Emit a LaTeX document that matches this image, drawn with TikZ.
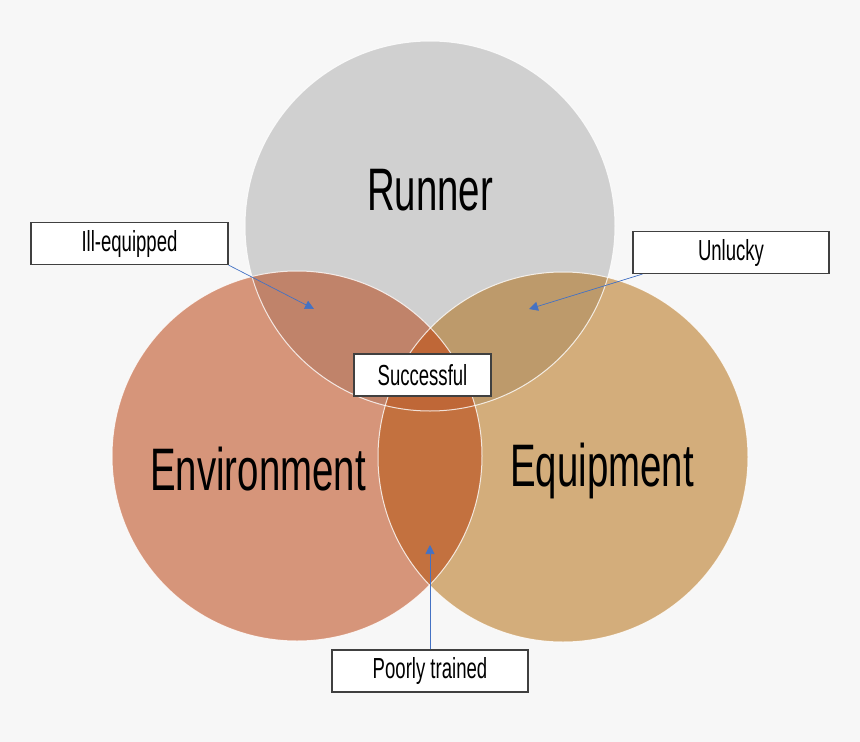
\documentclass[tikz,border=0pt]{standalone}
\usepackage{fontspec}
\newfontfamily\agency[FakeStretch=0.64]{Liberation Sans}
\usetikzlibrary{arrows.meta,
                positioning}
\definecolor{bg}{HTML}{F7F7F7}
\definecolor{colR}{HTML}{D0D0D0}
\definecolor{colE}{HTML}{D6957A}
\definecolor{colQ}{HTML}{D3AD7B}
\definecolor{colRE}{HTML}{C0836A}
\definecolor{colRQ}{HTML}{BD9A6B}
\definecolor{colEQ}{HTML}{C3713F}
\definecolor{colREQ}{HTML}{BF6737}
\definecolor{boxline}{HTML}{404040}
\definecolor{arrowblue}{HTML}{4472C4}

\begin{document}
\begin{tikzpicture}[x=1pt, y=-1pt,
   SET/.style = {circle, minimum size=370pt, inner sep=0pt},
   TXT/.style = {font=\agency\fontsize{60}{62}\selectfont},
   LBL/.style = {draw=boxline, fill=white, line width=1.2pt,
                 minimum height=42pt, inner sep=0pt,
                 font=\agency\fontsize{29}{31}\selectfont},
   PTR/.style = {draw=arrowblue, line width=0.7pt,
                 -{Triangle[length=9pt, width=9pt]}},
   RIM/.style = {draw=white, line width=1pt, draw opacity=0.8}
                     ]
\fill[bg] (0,0) rectangle (860,742);
\useasboundingbox (0,0) rectangle (860,742);
% the three sets
\node (runner) [SET, fill=colR] at (430,226) {};
\node (envir)  [SET, fill=colE] at (297,456) {};
\node (equip)  [SET, fill=colQ] at (563,457) {};
% overlaps
\begin{scope}
  \clip (runner.center) circle[radius=185pt];
  \fill[colRE] (envir.center) circle[radius=185pt];
  \fill[colRQ] (equip.center) circle[radius=185pt];
\end{scope}
\begin{scope}
  \clip (envir.center) circle[radius=185pt];
  \fill[colEQ] (equip.center) circle[radius=185pt];
  \clip (equip.center) circle[radius=185pt];
  \fill[colREQ] (runner.center) circle[radius=185pt];
\end{scope}
\draw[RIM] (runner.center) circle[radius=185pt];
\draw[RIM] (envir.center)  circle[radius=185pt];
\draw[RIM] (equip.center)  circle[radius=185pt];
% set names
\node (runnertxt) [TXT] at (430,190) {Runner};
\node (envirtxt)  [TXT] at (258,469) {Environment};
\node (equiptxt)  [TXT] at (602,471) {Equipment};
% labels
\node (ill)     [LBL, minimum width=197pt] at (129.5,243.5) {Ill-equipped};
\node (unlucky) [LBL, minimum width=196pt] at (731,252.5)   {Unlucky};
\node (success) [LBL, minimum width=137pt] at (422.5,375)   {Successful};
\node (poorly)  [LBL, minimum width=196pt] at (430,671)     {Poorly trained};
\coordinate (illtip)     at (314,309);
\coordinate (unluckytip) at (529,309);
\coordinate (poorlytip)  at (430,545);
\draw[PTR] (ill.south east)  -- (illtip);
\draw[PTR] ([xshift=10pt]unlucky.south west) -- (unluckytip);
\draw[PTR] (poorly.north)    -- (poorlytip);
\end{tikzpicture}
\end{document}
